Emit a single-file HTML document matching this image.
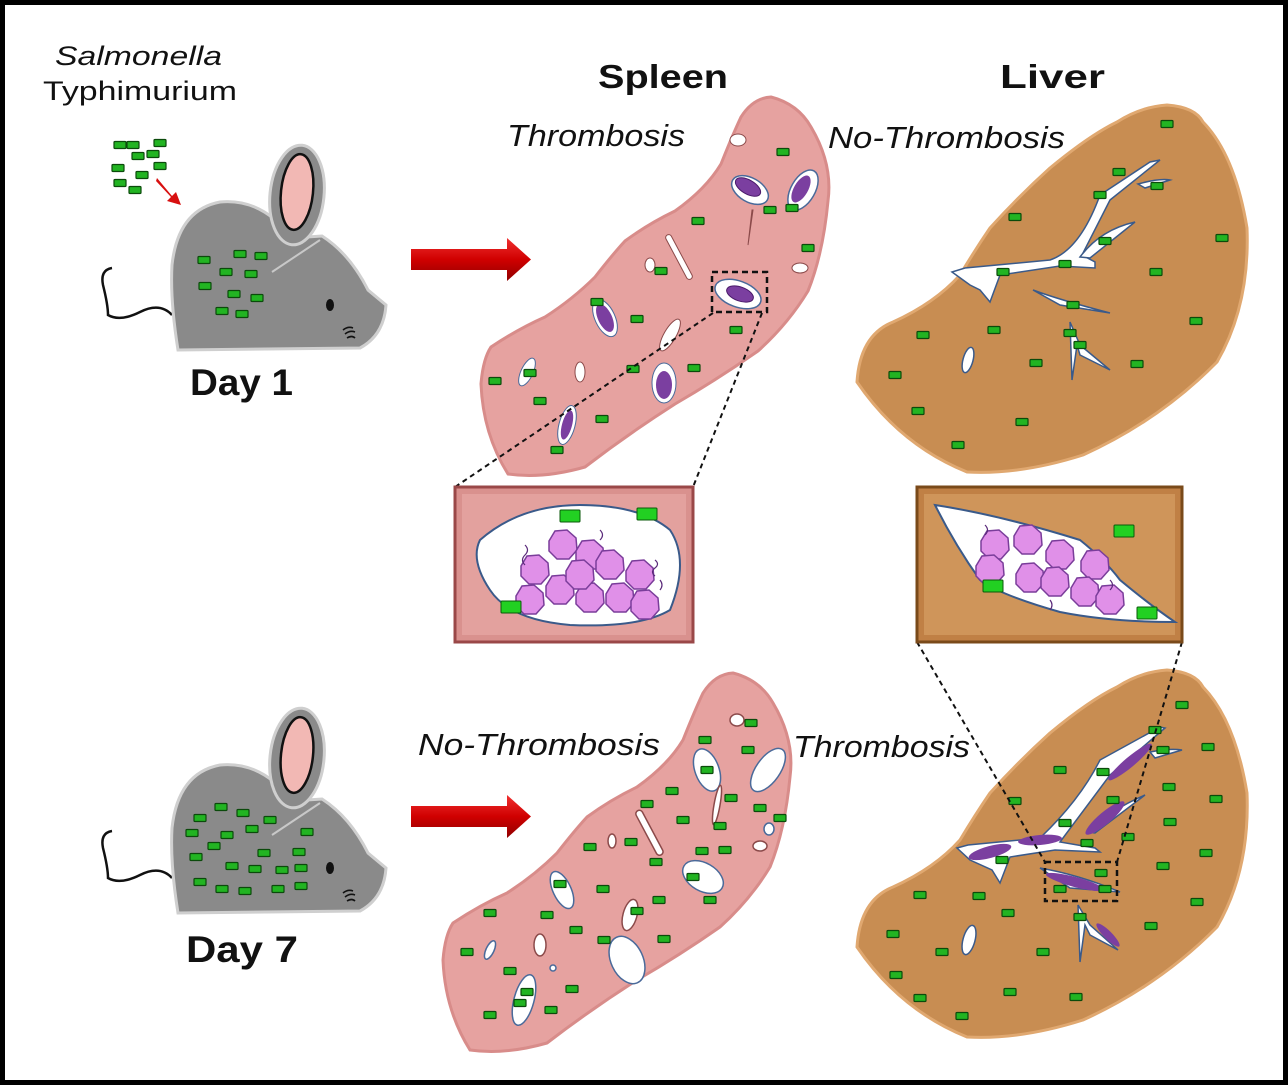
<!DOCTYPE html>
<html><head><meta charset="utf-8"><style>
html,body{margin:0;padding:0;background:#fff}
svg{display:block}
text{font-family:"Liberation Sans",sans-serif}
</style></head><body>
<svg width="1288" height="1085" viewBox="0 0 1288 1085" xmlns="http://www.w3.org/2000/svg">
<defs>
<g id="gb"><rect x="-6" y="-3.5" width="12" height="7" rx="1" fill="#22b422" stroke="#0b4a0b" stroke-width="1.2"/></g>
<g id="gbig"><rect x="-10" y="-6" width="20" height="12" rx="1" fill="#22d022" stroke="#0b5a0b" stroke-width="1"/></g>
<linearGradient id="arr" x1="0" y1="0" x2="0" y2="1"><stop offset="0" stop-color="#f03030"/><stop offset="0.5" stop-color="#d00000"/><stop offset="1" stop-color="#900000"/></linearGradient>
<g id="mouse">
 <path d="M112,268 Q100,270 103,285 Q108,305 108,315 Q120,322 140,312 Q160,302 172,315" fill="none" stroke="#111" stroke-width="2.5"/>
 <path d="M178,350 Q170,300 172,265 Q178,210 220,202 Q262,198 292,238 L322,236 Q350,254 368,290 L386,305 Q384,335 360,348 Z" fill="#8a8a8a" stroke="#cfcfcf" stroke-width="3"/>
 <ellipse cx="297" cy="195" rx="27" ry="50" transform="rotate(6 297 195)" fill="#8a8a8a" stroke="#cfcfcf" stroke-width="3"/>
 <ellipse cx="297" cy="192" rx="16" ry="38" transform="rotate(6 297 192)" fill="#f2b8b4" stroke="#111" stroke-width="2.5"/>
 <path d="M272,272 L320,240" stroke="#c8c8c8" stroke-width="2"/>
 <ellipse cx="330" cy="305" rx="4" ry="6" fill="#111"/>
 <path d="M343,330 q5,-4 10,-2 M345,334 q5,-4 10,-2 M347,338 q5,-3 8,0" stroke="#111" stroke-width="1.6" fill="none"/>
</g>
<path id="spleen" d="M733,673 Q760,680 773,703 Q795,740 790,777 Q785,830 770,867 Q750,900 720,927 Q680,955 637,980 Q590,1010 547,1043 Q505,1055 470,1050 Q445,1010 443,960 Q445,935 453,923 Q480,905 507,893 Q535,875 557,853 Q575,830 587,817 Q610,800 637,787 Q668,765 683,740 Q695,710 703,693 Q715,674 733,673 Z"/>
<path id="liver" d="M1167,670 Q1195,672 1203,687 Q1235,720 1247,793 Q1250,870 1217,927 Q1160,985 1083,1020 Q1020,1040 967,1037 Q900,1010 857,947 Q860,900 893,887 Q935,868 960,840 Q975,815 990,793 Q1020,760 1050,733 Q1090,700 1117,687 Q1140,672 1167,670 Z"/>
<g id="clot"><ellipse cx="0" cy="0" rx="14" ry="7" fill="#7b3fa0" stroke="#4a1a6a" stroke-width="1"/></g>
<g id="blob"><path d="M-14,-4 L-8,-14 L4,-15 L13,-7 L14,5 L6,14 L-6,14 L-14,6 Z" fill="#e090e8" stroke="#7a3d9a" stroke-width="1.5"/></g>
</defs>
<rect x="2.5" y="2.5" width="1283" height="1080" fill="#fff" stroke="#000" stroke-width="5"/>

<text x="55" y="65" font-size="27" font-style="italic" fill="#111" textLength="167" lengthAdjust="spacingAndGlyphs">Salmonella</text>
<text x="43" y="100" font-size="27" fill="#111" textLength="194" lengthAdjust="spacingAndGlyphs">Typhimurium</text>
<text x="598" y="88" font-size="33" font-weight="bold" fill="#111" textLength="130" lengthAdjust="spacingAndGlyphs">Spleen</text>
<text x="1000" y="88" font-size="33" font-weight="bold" fill="#111" textLength="105" lengthAdjust="spacingAndGlyphs">Liver</text>
<text x="507" y="146" font-size="31" font-style="italic" fill="#111" textLength="178" lengthAdjust="spacingAndGlyphs">Thrombosis</text>
<text x="828" y="148" font-size="31" font-style="italic" fill="#111" textLength="237" lengthAdjust="spacingAndGlyphs">No-Thrombosis</text>
<text x="418" y="755" font-size="31" font-style="italic" fill="#111" textLength="242" lengthAdjust="spacingAndGlyphs">No-Thrombosis</text>
<text x="793" y="757" font-size="31" font-style="italic" fill="#111" textLength="177" lengthAdjust="spacingAndGlyphs">Thrombosis</text>
<text x="190" y="395" font-size="37" font-weight="bold" fill="#111" textLength="103" lengthAdjust="spacingAndGlyphs">Day 1</text>
<text x="186" y="962" font-size="37" font-weight="bold" fill="#111" textLength="112" lengthAdjust="spacingAndGlyphs">Day 7</text>

<!-- injection -->
<g>
<use href="#gb" x="120" y="145"/><use href="#gb" x="133" y="145"/><use href="#gb" x="160" y="143"/><use href="#gb" x="138" y="156"/><use href="#gb" x="153" y="154"/><use href="#gb" x="118" y="168"/><use href="#gb" x="142" y="175"/><use href="#gb" x="160" y="166"/><use href="#gb" x="120" y="183"/><use href="#gb" x="135" y="190"/>
<path d="M157,178 L172,196 L176,192 L181,205 L167,201 L171,197 L156,181 Z" fill="#d81010"/>
</g>
<use href="#mouse"/>
<g><use href="#gb" x="204" y="260"/><use href="#gb" x="240" y="254"/><use href="#gb" x="261" y="256"/><use href="#gb" x="226" y="272"/><use href="#gb" x="251" y="274"/><use href="#gb" x="205" y="286"/><use href="#gb" x="234" y="294"/><use href="#gb" x="257" y="298"/><use href="#gb" x="222" y="311"/><use href="#gb" x="242" y="314"/></g>

<g transform="translate(0,563)"><use href="#mouse"/></g>
<g><use href="#gb" x="221" y="807"/><use href="#gb" x="243" y="813"/><use href="#gb" x="200" y="818"/><use href="#gb" x="270" y="820"/><use href="#gb" x="252" y="829"/><use href="#gb" x="192" y="833"/><use href="#gb" x="227" y="835"/><use href="#gb" x="307" y="832"/><use href="#gb" x="214" y="846"/><use href="#gb" x="264" y="853"/><use href="#gb" x="299" y="852"/><use href="#gb" x="196" y="857"/><use href="#gb" x="232" y="866"/><use href="#gb" x="255" y="869"/><use href="#gb" x="282" y="870"/><use href="#gb" x="301" y="868"/><use href="#gb" x="200" y="882"/><use href="#gb" x="222" y="889"/><use href="#gb" x="245" y="891"/><use href="#gb" x="278" y="889"/><use href="#gb" x="301" y="886"/></g>

<!-- arrows -->
<path d="M411,249 L507,249 L507,238 L531,259.5 L507,281 L507,270 L411,270 Z" fill="url(#arr)"/>
<path d="M411,806 L507,806 L507,795 L531,816.5 L507,838 L507,827 L411,827 Z" fill="url(#arr)"/>

<!-- spleen 1 -->
<g transform="translate(38,-576)">
<use href="#spleen" fill="#e6a2a0" stroke="#d88c8a" stroke-width="3"/>
</g>
<g>
<ellipse cx="738" cy="140" rx="8" ry="6" fill="#fff" stroke="#8b4a4a"/>
<ellipse cx="750" cy="190" rx="20" ry="12" transform="rotate(30 750 190)" fill="#fff" stroke="#4a6a9a" stroke-width="1.5"/>
<use href="#clot" x="748" y="187" transform="rotate(30 748 187)"/>
<ellipse cx="803" cy="190" rx="12" ry="22" transform="rotate(30 803 190)" fill="#fff" stroke="#4a6a9a" stroke-width="1.5"/>
<ellipse cx="801" cy="189" rx="7" ry="15" transform="rotate(30 801 189)" fill="#7b3fa0"/>
<path d="M752,210 L748,245 L753,210Z" fill="#fff" stroke="#8b4a4a"/>
<rect x="676" y="232" width="6" height="50" rx="3" transform="rotate(-28 679 257)" fill="#fff" stroke="#8b4a4a"/>
<ellipse cx="650" cy="265" rx="5" ry="7" fill="#fff" stroke="#8b4a4a"/>
<ellipse cx="800" cy="268" rx="8" ry="5" fill="#fff" stroke="#8b4a4a"/>
<ellipse cx="738" cy="294" rx="24" ry="13" transform="rotate(20 738 294)" fill="#fff" stroke="#4a6a9a" stroke-width="1.5"/>
<use href="#clot" x="740" y="294" transform="rotate(20 740 294)"/>
<rect x="712" y="272" width="55" height="40" fill="none" stroke="#111" stroke-width="2.5" stroke-dasharray="6,4"/>
<ellipse cx="605" cy="318" rx="10" ry="20" transform="rotate(-25 605 318)" fill="#fff" stroke="#4a6a9a"/>
<ellipse cx="605" cy="318" rx="7" ry="15" transform="rotate(-25 605 318)" fill="#7b3fa0"/>
<ellipse cx="670" cy="335" rx="6" ry="18" transform="rotate(30 670 335)" fill="#fff" stroke="#8b4a4a"/>
<ellipse cx="664" cy="383" rx="12" ry="20" fill="#fff" stroke="#4a6a9a"/>
<ellipse cx="664" cy="385" rx="8" ry="14" fill="#7b3fa0"/>
<ellipse cx="527" cy="372" rx="6" ry="15" transform="rotate(25 527 372)" fill="#fff" stroke="#4a6a9a"/>
<ellipse cx="580" cy="372" rx="5" ry="10" fill="#fff" stroke="#8b4a4a"/>
<ellipse cx="567" cy="425" rx="8" ry="20" transform="rotate(15 567 425)" fill="#fff" stroke="#4a6a9a"/>
<ellipse cx="567" cy="425" rx="5" ry="15" transform="rotate(15 567 425)" fill="#7b3fa0"/>
<use href="#gb" x="783" y="152"/><use href="#gb" x="698" y="221"/><use href="#gb" x="770" y="210"/><use href="#gb" x="792" y="208"/><use href="#gb" x="808" y="248"/><use href="#gb" x="661" y="271"/><use href="#gb" x="597" y="302"/><use href="#gb" x="637" y="319"/><use href="#gb" x="736" y="330"/><use href="#gb" x="495" y="381"/><use href="#gb" x="540" y="401"/><use href="#gb" x="633" y="369"/><use href="#gb" x="694" y="368"/><use href="#gb" x="602" y="419"/><use href="#gb" x="557" y="450"/><use href="#gb" x="530" y="373"/>
</g>

<!-- liver 1 -->
<g transform="translate(0,-565)"><use href="#liver" fill="#c88d52" stroke="#e0a870" stroke-width="3"/></g>
<g fill="#fff" stroke="#3a5a8a" stroke-width="1.5">
<path d="M952,272 L965,268 L1050,260 Q1080,250 1100,195 L1150,162 L1160,160 L1110,200 L1082,255 L1095,262 L1095,268 L1060,266 L1000,275 L990,302 L980,290 L970,285 Z"/>
<path d="M1138,184 Q1160,178 1170,180 L1145,188 Z"/>
<path d="M1080,257 Q1100,230 1135,222 L1090,258 Z"/>
<path d="M1033,290 Q1060,300 1110,313 L1060,305 Z"/>
<path d="M1070,322 L1080,345 L1110,370 L1080,355 L1077,345 L1072,380 Z"/>
<ellipse cx="968" cy="360" rx="5" ry="13" transform="rotate(15 968 360)"/>
</g>
<g><use href="#gb" x="1167" y="124"/><use href="#gb" x="1119" y="172"/><use href="#gb" x="1100" y="195"/><use href="#gb" x="1157" y="186"/><use href="#gb" x="1015" y="217"/><use href="#gb" x="1105" y="241"/><use href="#gb" x="1222" y="238"/><use href="#gb" x="1003" y="272"/><use href="#gb" x="1065" y="264"/><use href="#gb" x="1156" y="272"/><use href="#gb" x="1073" y="305"/><use href="#gb" x="1196" y="321"/><use href="#gb" x="923" y="335"/><use href="#gb" x="994" y="330"/><use href="#gb" x="1070" y="333"/><use href="#gb" x="1080" y="345"/><use href="#gb" x="1036" y="363"/><use href="#gb" x="1137" y="364"/><use href="#gb" x="895" y="375"/><use href="#gb" x="918" y="411"/><use href="#gb" x="1022" y="422"/><use href="#gb" x="958" y="445"/></g>

<!-- spleen 2 -->
<use href="#spleen" fill="#e6a2a0" stroke="#d88c8a" stroke-width="3"/>
<g fill="#fff" stroke="#4a6a9a" stroke-width="1.5">
<ellipse cx="737" cy="720" rx="7" ry="6" stroke="#8b4a4a"/>
<ellipse cx="707" cy="770" rx="12" ry="22" transform="rotate(-20 707 770)"/>
<ellipse cx="768" cy="770" rx="12" ry="25" transform="rotate(35 768 770)"/>
<ellipse cx="717" cy="805" rx="3" ry="20" transform="rotate(10 717 805)" stroke="#8b4a4a"/>
<rect x="646" y="808" width="7" height="50" rx="3.5" transform="rotate(-28 649 833)" stroke="#8b4a4a"/>
<ellipse cx="769" cy="829" rx="5" ry="6"/>
<ellipse cx="760" cy="846" rx="7" ry="5" stroke="#8b4a4a"/>
<ellipse cx="612" cy="841" rx="4" ry="7" stroke="#8b4a4a"/>
<ellipse cx="703" cy="877" rx="22" ry="14" transform="rotate(30 703 877)"/>
<ellipse cx="562" cy="890" rx="9" ry="20" transform="rotate(-25 562 890)"/>
<ellipse cx="630" cy="915" rx="7" ry="16" transform="rotate(15 630 915)" stroke="#8b4a4a"/>
<ellipse cx="490" cy="950" rx="4" ry="10" transform="rotate(25 490 950)"/>
<ellipse cx="540" cy="945" rx="6" ry="11" stroke="#8b4a4a"/>
<ellipse cx="553" cy="968" rx="3" ry="3"/>
<ellipse cx="627" cy="960" rx="16" ry="25" transform="rotate(-25 627 960)"/>
<ellipse cx="524" cy="1000" rx="10" ry="26" transform="rotate(15 524 1000)"/>
</g>
<g><use href="#gb" x="751" y="723"/><use href="#gb" x="705" y="740"/><use href="#gb" x="748" y="750"/><use href="#gb" x="707" y="770"/><use href="#gb" x="672" y="791"/><use href="#gb" x="731" y="798"/><use href="#gb" x="760" y="808"/><use href="#gb" x="647" y="804"/><use href="#gb" x="683" y="820"/><use href="#gb" x="720" y="826"/><use href="#gb" x="780" y="818"/><use href="#gb" x="590" y="847"/><use href="#gb" x="631" y="842"/><use href="#gb" x="702" y="851"/><use href="#gb" x="725" y="850"/><use href="#gb" x="656" y="862"/><use href="#gb" x="693" y="877"/><use href="#gb" x="560" y="884"/><use href="#gb" x="603" y="889"/><use href="#gb" x="659" y="900"/><use href="#gb" x="710" y="900"/><use href="#gb" x="490" y="913"/><use href="#gb" x="547" y="915"/><use href="#gb" x="637" y="911"/><use href="#gb" x="576" y="930"/><use href="#gb" x="604" y="940"/><use href="#gb" x="664" y="939"/><use href="#gb" x="467" y="952"/><use href="#gb" x="510" y="971"/><use href="#gb" x="572" y="989"/><use href="#gb" x="527" y="992"/><use href="#gb" x="520" y="1003"/><use href="#gb" x="490" y="1015"/><use href="#gb" x="551" y="1010"/></g>

<!-- liver 2 -->
<use href="#liver" fill="#c88d52" stroke="#e0a870" stroke-width="3"/>
<g fill="#fff" stroke="#3a5a8a" stroke-width="1.5">
<path d="M957,848 L968,845 L1040,838 Q1080,800 1100,760 L1160,727 L1165,728 L1110,775 L1060,842 L1095,848 L1100,852 L1055,850 L1010,857 L1000,883 L992,870 L970,860 Z"/>
<path d="M1150,752 Q1170,748 1182,750 L1155,758 Z"/>
<path d="M1088,832 Q1110,810 1145,795 L1095,833 Z"/>
<path d="M1040,868 Q1080,875 1120,892 L1070,888 Z"/>
<path d="M1078,905 L1090,925 L1118,950 L1090,935 L1085,925 L1080,962 Z"/>
<ellipse cx="969" cy="940" rx="6" ry="15" transform="rotate(15 969 940)"/>
</g>
<g fill="#7b3fa0">
<ellipse cx="1130" cy="762" rx="28" ry="5" transform="rotate(-40 1130 762)"/>
<ellipse cx="1105" cy="818" rx="25" ry="6" transform="rotate(-40 1105 818)"/>
<ellipse cx="1040" cy="840" rx="22" ry="5" transform="rotate(-5 1040 840)"/>
<ellipse cx="990" cy="852" rx="22" ry="6" transform="rotate(-15 990 852)"/>
<ellipse cx="1075" cy="882" rx="30" ry="5" transform="rotate(15 1075 882)"/>
<ellipse cx="1108" cy="935" rx="16" ry="4" transform="rotate(45 1108 935)"/>
</g>
<rect x="1045" y="862" width="72" height="39" fill="none" stroke="#111" stroke-width="2.5" stroke-dasharray="6,4"/>
<g><use href="#gb" x="1182" y="705"/><use href="#gb" x="1155" y="730"/><use href="#gb" x="1163" y="750"/><use href="#gb" x="1208" y="747"/><use href="#gb" x="1060" y="770"/><use href="#gb" x="1103" y="772"/><use href="#gb" x="1169" y="787"/><use href="#gb" x="1015" y="801"/><use href="#gb" x="1113" y="800"/><use href="#gb" x="1216" y="799"/><use href="#gb" x="1065" y="823"/><use href="#gb" x="1170" y="822"/><use href="#gb" x="1128" y="837"/><use href="#gb" x="1087" y="843"/><use href="#gb" x="1206" y="853"/><use href="#gb" x="1002" y="860"/><use href="#gb" x="1163" y="866"/><use href="#gb" x="1101" y="873"/><use href="#gb" x="1060" y="889"/><use href="#gb" x="1105" y="889"/><use href="#gb" x="920" y="895"/><use href="#gb" x="979" y="896"/><use href="#gb" x="1008" y="913"/><use href="#gb" x="1197" y="902"/><use href="#gb" x="1080" y="917"/><use href="#gb" x="1151" y="926"/><use href="#gb" x="893" y="934"/><use href="#gb" x="942" y="952"/><use href="#gb" x="1043" y="952"/><use href="#gb" x="896" y="975"/><use href="#gb" x="920" y="998"/><use href="#gb" x="1010" y="992"/><use href="#gb" x="1076" y="997"/><use href="#gb" x="962" y="1016"/></g>

<!-- dashed connectors -->
<path d="M713,313 L455,487 M762,313 L693,487" stroke="#111" stroke-width="2" stroke-dasharray="5,4" fill="none"/>
<path d="M917,642 L1045,862 M1182,642 L1117,862" stroke="#111" stroke-width="2" stroke-dasharray="5,4" fill="none"/>

<!-- spleen inset -->
<rect x="455" y="487" width="238" height="155" fill="#d9918e" stroke="#9a4848" stroke-width="3"/>
<rect x="462" y="494" width="224" height="141" fill="#e3a19e"/>
<path d="M480,540 Q520,505 580,505 Q640,505 670,530 Q690,560 670,610 Q640,628 570,625 Q510,620 490,590 Q470,560 480,540 Z" fill="#fff" stroke="#3a5a8a" stroke-width="2"/>
<g>
<use href="#blob" x="535" y="570"/><use href="#blob" x="563" y="545"/><use href="#blob" x="590" y="555"/><use href="#blob" x="610" y="565"/><use href="#blob" x="640" y="575"/><use href="#blob" x="560" y="590"/><use href="#blob" x="590" y="598"/><use href="#blob" x="620" y="598"/><use href="#blob" x="580" y="575"/><use href="#blob" x="645" y="605"/><use href="#blob" x="530" y="600"/>
<path d="M525,545 q5,5 0,10 q-5,5 0,10 M600,530 q5,5 0,10 M655,560 q5,4 0,8 q-5,4 0,8 M660,580 q4,5 0,10" stroke="#5a2a7a" stroke-width="1.2" fill="none"/>
</g>
<use href="#gbig" x="570" y="516"/><use href="#gbig" x="647" y="514"/><use href="#gbig" x="511" y="607"/>

<!-- liver inset -->
<rect x="917" y="487" width="265" height="155" fill="#c08045" stroke="#7a4a1a" stroke-width="3"/>
<rect x="924" y="494" width="251" height="141" fill="#cf955a"/>
<path d="M935,505 Q1000,515 1080,540 Q1105,560 1120,580 Q1150,605 1175,622 Q1110,622 1060,612 Q1000,595 980,580 Q955,545 935,505 Z" fill="#fff" stroke="#3a5a8a" stroke-width="2"/>
<g>
<use href="#blob" x="995" y="545"/><use href="#blob" x="1028" y="540"/><use href="#blob" x="1060" y="555"/><use href="#blob" x="1095" y="565"/><use href="#blob" x="990" y="570"/><use href="#blob" x="1030" y="578"/><use href="#blob" x="1055" y="582"/><use href="#blob" x="1085" y="592"/><use href="#blob" x="1110" y="600"/>
<path d="M985,525 q5,5 0,10 M1110,580 q5,5 0,10 M1050,600 q4,5 0,10" stroke="#5a2a7a" stroke-width="1.2" fill="none"/>
</g>
<use href="#gbig" x="1124" y="531"/><use href="#gbig" x="993" y="586"/><use href="#gbig" x="1147" y="613"/>
</svg>
</body></html>
